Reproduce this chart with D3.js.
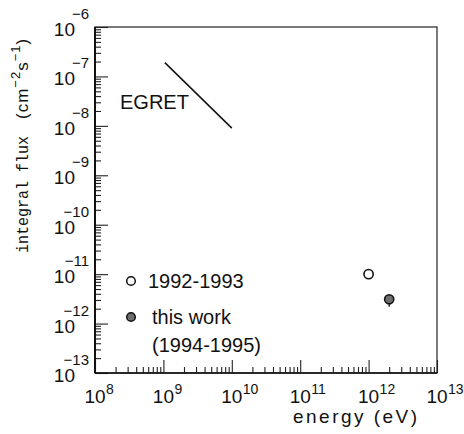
<!DOCTYPE html>
<html>
<head>
<meta charset="utf-8">
<script src="https://cdn.jsdelivr.net/npm/d3@7"></script>
<style>
  html, body { margin: 0; padding: 0; background: #fff; }
  svg { display: block; }
  text { fill: #111; }
</style>
</head>
<body>
<svg id="chart" width="464" height="434"></svg>
<script>
// Axis decades (powers of ten)
const energyExponents = [8, 9, 10, 11, 12, 13];
const fluxExponents = [-6, -7, -8, -9, -10, -11, -12, -13];

// EGRET spectrum segment
const egretEnergy = [1.05e9, 1.0e10];
const egretFlux = [1.9e-7, 9.0e-9];

// Measured points
const seriesNames = ["1992-1993", "this work"];
const pointEnergy = [1.0e12, 2.0e12];
const pointFlux = [1.0e-11, 3.1e-12];
const pointErrLow = [null, 2.2e-12];
const pointErrHigh = [null, 3.8e-12];

const margin = { left: 95, right: 27, top: 27, bottom: 61 };
const W = 464, H = 434;

const svg = d3.select("#chart");

const x = d3.scaleLog()
  .domain([1e8, 1e13])
  .range([margin.left, W - margin.right]);
const y = d3.scaleLog()
  .domain([1e-13, 1e-6])
  .range([H - margin.bottom, margin.top]);

const sans = "'Liberation Sans', Arial, Helvetica, sans-serif";
const mono = "'Liberation Mono', 'DejaVu Sans Mono', monospace";

// Frame
svg.append("rect")
  .attr("x", x.range()[0]).attr("y", y.range()[1])
  .attr("width", x.range()[1] - x.range()[0])
  .attr("height", y.range()[0] - y.range()[1])
  .attr("fill", "none").attr("stroke", "#333").attr("stroke-width", 1.3);

// Major / minor ticks, pointing inward
const xMajor = energyExponents.map(e => Math.pow(10, e));
const yMajor = fluxExponents.map(e => Math.pow(10, e));
const isMajor = v => Math.abs(Math.log10(v) - Math.round(Math.log10(v))) < 1e-9;
const xMinor = x.ticks().filter(v => !isMajor(v));
const yMinor = y.ticks().filter(v => !isMajor(v));

function styleAxis(g) {
  g.select(".domain").remove();
  g.selectAll("line").attr("stroke", "#222").attr("stroke-width", 1.1);
  g.selectAll("text").remove();
}

svg.append("g")
  .attr("transform", `translate(0,${y.range()[0]})`)
  .call(d3.axisBottom(x).tickValues(xMajor).tickSize(-13).tickFormat(""))
  .call(styleAxis);
svg.append("g")
  .attr("transform", `translate(0,${y.range()[0]})`)
  .call(d3.axisBottom(x).tickValues(xMinor).tickSize(-6).tickFormat(""))
  .call(styleAxis);
svg.append("g")
  .attr("transform", `translate(${x.range()[0]},0)`)
  .call(d3.axisLeft(y).tickValues(yMajor).tickSize(-13).tickFormat(""))
  .call(styleAxis);
svg.append("g")
  .attr("transform", `translate(${x.range()[0]},0)`)
  .call(d3.axisLeft(y).tickValues(yMinor).tickSize(-6).tickFormat(""))
  .call(styleAxis);

// Heavier left and bottom axis lines
svg.append("line")
  .attr("x1", x.range()[0]).attr("x2", x.range()[0])
  .attr("y1", y.range()[1]).attr("y2", y.range()[0])
  .attr("stroke", "#111").attr("stroke-width", 2);
svg.append("line")
  .attr("x1", x.range()[0]).attr("x2", x.range()[1])
  .attr("y1", y.range()[0]).attr("y2", y.range()[0])
  .attr("stroke", "#111").attr("stroke-width", 1.6);

// Tick labels: 10 with superscript exponent
const fmtExp = e => (e < 0 ? "\u2212" : "") + Math.abs(e);

const xLab = svg.append("g").attr("font-family", sans);
energyExponents.forEach(e => {
  const px = x(Math.pow(10, e));
  xLab.append("text")
    .attr("x", px).attr("y", 403)
    .attr("text-anchor", "middle").attr("font-size", 19)
    .text("10");
  xLab.append("text")
    .attr("x", px + 11).attr("y", 394)
    .attr("font-size", 14)
    .text(fmtExp(e));
});

const yLab = svg.append("g").attr("font-family", sans);
fluxExponents.forEach(e => {
  const py = y(Math.pow(10, e));
  yLab.append("text")
    .attr("x", 75).attr("y", py + 9)
    .attr("text-anchor", "end").attr("font-size", 19)
    .text("10");
  yLab.append("text")
    .attr("x", 89).attr("y", py - 8)
    .attr("text-anchor", "end").attr("font-size", 15)
    .text(fmtExp(e));
});

// Axis titles
svg.append("text")
  .attr("x", 293).attr("y", 423)
  .attr("font-family", sans).attr("font-size", 19)
  .attr("textLength", 124).attr("lengthAdjust", "spacing")
  .text("energy (eV)");

const yTitle = svg.append("g").attr("transform", "translate(28,0) rotate(-90)");
yTitle.append("text")
  .attr("x", -253).attr("y", 0)
  .attr("font-family", mono).attr("font-size", 17)
  .attr("textLength", 117).attr("lengthAdjust", "spacingAndGlyphs")
  .text("integral flux");
const unit = yTitle.append("text")
  .attr("x", -119).attr("y", 0)
  .attr("font-family", sans).attr("font-size", 17)
  .attr("letter-spacing", 1);
unit.append("tspan").text("(cm");
unit.append("tspan").attr("dy", -8).attr("font-size", 13).text("\u22122");
unit.append("tspan").attr("dy", 8).text("s");
unit.append("tspan").attr("dy", -8).attr("font-size", 13).text("\u22121");
unit.append("tspan").attr("dy", 8).text(")");

// EGRET segment
svg.append("path")
  .datum(egretEnergy.map((e, i) => [e, egretFlux[i]]))
  .attr("d", d3.line().x(d => x(d[0])).y(d => y(d[1])))
  .attr("fill", "none").attr("stroke", "#111").attr("stroke-width", 1.5);
svg.append("text")
  .attr("x", 120).attr("y", 109)
  .attr("font-family", sans).attr("font-size", 20)
  .text("EGRET");

// Error bars
pointEnergy.forEach((e, i) => {
  if (pointErrLow[i] == null) return;
  svg.append("line")
    .attr("x1", x(e)).attr("x2", x(e))
    .attr("y1", y(pointErrLow[i])).attr("y2", y(pointErrHigh[i]))
    .attr("stroke", "#111").attr("stroke-width", 1.3);
});

// Markers
const markerFill = ["#fff", "#6e6e6e"];
pointEnergy.forEach((e, i) => {
  svg.append("circle")
    .attr("cx", x(e)).attr("cy", y(pointFlux[i])).attr("r", 4.6)
    .attr("fill", markerFill[i]).attr("stroke", "#111").attr("stroke-width", 1.6);
});

// Legend
const legend = svg.append("g").attr("font-family", sans).attr("font-size", 20);
legend.append("circle").attr("cx", 131).attr("cy", 281).attr("r", 4.3)
  .attr("fill", markerFill[0]).attr("stroke", "#111").attr("stroke-width", 1.5);
legend.append("text").attr("x", 148).attr("y", 288).text(seriesNames[0]);
legend.append("circle").attr("cx", 131).attr("cy", 317).attr("r", 4.3)
  .attr("fill", markerFill[1]).attr("stroke", "#111").attr("stroke-width", 1.5);
legend.append("text").attr("x", 152).attr("y", 324).text(seriesNames[1]);
legend.append("text").attr("x", 152).attr("y", 352).text("(1994-1995)");
</script>
</body>
</html>
